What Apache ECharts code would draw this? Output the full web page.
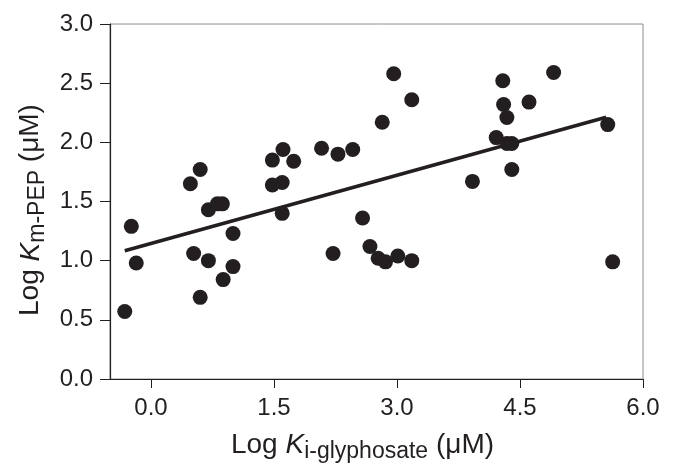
<!DOCTYPE html>
<html>
<head>
<meta charset="utf-8">
<script src="https://cdn.jsdelivr.net/npm/echarts@6/dist/echarts.min.js"></script>
<style>
html,body{margin:0;padding:0;background:#fff;}
#chart{width:677px;height:466px;}
</style>
</head>
<body>
<div id="chart"></div>
<script>
// Log Ki-glyphosate (x) and Log Km-PEP (y) for each enzyme
const xValues = [-0.32, -0.24, -0.18, 0.48, 0.60, 0.52, 0.60, 0.70, 0.70, 0.81, 0.87, 0.88, 1.00, 1.00,
  1.48, 1.61, 1.74, 1.48, 1.60, 1.60, 2.08, 2.28, 2.46, 2.58, 2.22, 2.67, 2.77, 2.86, 3.01, 3.18,
  2.96, 3.18, 2.82, 3.92, 4.40, 4.29, 4.30, 4.34, 4.21, 4.34, 4.40, 4.61, 4.91, 5.57, 5.63];
const yValues = [0.57, 1.29, 0.98, 1.65, 1.77, 1.06, 0.69, 1.43, 1.00, 1.48, 1.48, 0.84, 1.23, 0.95,
  1.85, 1.94, 1.84, 1.64, 1.66, 1.40, 1.95, 1.90, 1.94, 1.36, 1.06, 1.12, 1.02, 0.99, 1.04, 1.00,
  2.58, 2.36, 2.17, 1.67, 1.77, 2.52, 2.32, 2.21, 2.04, 1.99, 1.99, 2.34, 2.59, 2.15, 0.99];
// regression line end points
const fitX = [-0.32, 5.55];
const fitY = [1.084, 2.212];
const xTicks = [0, 1.5, 3.0, 4.5, 6.0];
const yTicks = [0, 0.5, 1.0, 1.5, 2.0, 2.5, 3.0];

const ink = '#231f20';
const font = 'Liberation Sans, Arial, Helvetica, sans-serif';
const points = xValues.map((x, i) => [x, yValues[i]]);
const fit = fitX.map((x, i) => [x, fitY[i]]);

const chart = echarts.init(document.getElementById('chart'));
chart.setOption({
  animation: false,
  backgroundColor: '#fff',
  grid: { left: 110, right: 34, top: 24, bottom: 87, containLabel: false, outerBoundsMode: 'none',
    show: true, borderColor: '#8c8c8c', borderWidth: 1, backgroundColor: 'transparent' },
  xAxis: {
    type: 'value', min: -0.5, max: 6.0,
    axisLine: { show: true, onZero: false, lineStyle: { color: ink, width: 1.2 } },
    axisTick: { show: true, customValues: xTicks, length: 9, lineStyle: { color: ink, width: 1 } },
    axisLabel: { customValues: xTicks, formatter: v => v.toFixed(1), color: ink, fontSize: 24, fontFamily: font, margin: 17 },
    splitLine: { show: false },
    name: '{n|Log }{k|K}{s|i-glyphosate}{n| (μM)}',
    nameLocation: 'middle', nameGap: 46,
    nameTextStyle: {
      padding: [0, 28, 0, 0],
      rich: {
        n: { fontSize: 28, fontFamily: font, color: ink, lineHeight: 34, verticalAlign: 'bottom' },
        k: { fontSize: 28, fontFamily: font, fontStyle: 'italic', color: ink, lineHeight: 34, verticalAlign: 'bottom' },
        s: { fontSize: 23, fontFamily: font, color: ink, lineHeight: 26, verticalAlign: 'bottom', padding: [0, 0, -4, 0] }
      }
    }
  },
  yAxis: {
    type: 'value', min: 0, max: 3.0, interval: 0.5,
    axisLine: { show: true, onZero: false, lineStyle: { color: ink, width: 1.2 } },
    axisTick: { show: true, length: 10, lineStyle: { color: ink, width: 1 } },
    axisLabel: { formatter: v => v.toFixed(1), color: ink, fontSize: 24, fontFamily: font, margin: 17 },
    splitLine: { show: false },
    name: '{n|Log }{k|K}{s|m-PEP}{n| (μM)}',
    nameLocation: 'middle', nameGap: 64,
    nameTextStyle: {
      padding: [0, 17, 0, 0],
      rich: {
        n: { fontSize: 28, fontFamily: font, color: ink, lineHeight: 34, verticalAlign: 'bottom' },
        k: { fontSize: 28, fontFamily: font, fontStyle: 'italic', color: ink, lineHeight: 34, verticalAlign: 'bottom' },
        s: { fontSize: 23, fontFamily: font, color: ink, lineHeight: 26, verticalAlign: 'bottom', padding: [0, 0, -4, 0] }
      }
    }
  },
  series: [
    {
      type: 'line', data: fit, symbol: 'none', z: 3,
      lineStyle: { color: ink, width: 3.5 }
    },
    {
      type: 'scatter', data: points, symbol: 'circle', symbolSize: 15, z: 4,
      itemStyle: { color: ink, opacity: 1 }
    }
  ]
});
</script>
</body>
</html>
